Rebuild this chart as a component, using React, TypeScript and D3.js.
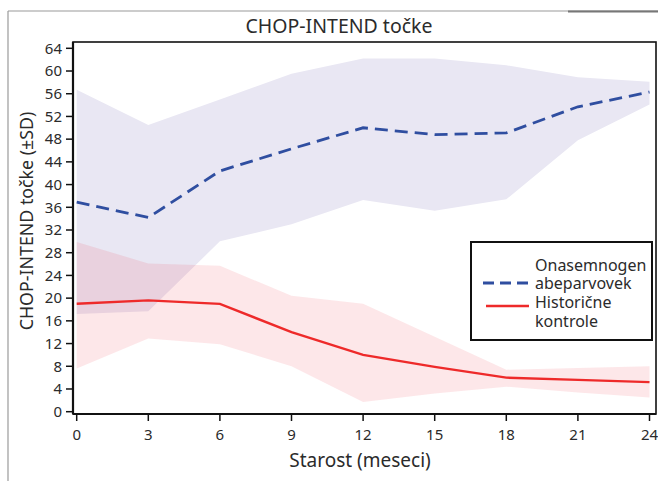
import React from "react";
import * as d3 from "d3";

const months = [0, 3, 6, 9, 12, 15, 18, 21, 24];
const xTicks = [0, 3, 6, 9, 12, 15, 18, 21, 24];
const yTicks = [0, 4, 8, 12, 16, 20, 24, 28, 32, 36, 40, 44, 48, 52, 56, 60, 64];

const onaMean = [36.9, 34.2, 42.4, 46.3, 50.0, 48.8, 49.1, 53.7, 56.3];
const onaUpper = [56.7, 50.5, 55.0, 59.5, 62.2, 62.2, 61.0, 58.9, 58.1];
const onaLower = [17.2, 17.7, 30.0, 33.0, 37.3, 35.4, 37.4, 47.8, 54.1];

const histMean = [19.0, 19.6, 19.0, 14.0, 10.0, 7.9, 6.0, 5.6, 5.2];
const histUpper = [29.9, 26.1, 25.7, 20.4, 19.0, 13.2, 7.4, 7.7, 8.0];
const histLower = [7.6, 12.9, 11.9, 8.0, 1.7, 3.2, 4.4, 3.4, 2.5];

const title = "CHOP-INTEND točke";
const yLabel = "CHOP-INTEND točke (±SD)";
const xLabel = "Starost (meseci)";
const legendOna = ["Onasemnogen", "abeparvovek"];
const legendHist = ["Historične", "kontrole"];

const FONT = "'Noto Sans', sans-serif";
const TXT = "#2b2b2b";

export default function App() {
  const W = 658;
  const H = 481;
  const frameL = 73, frameR = 656, frameT = 42, frameB = 414;
  const x = d3.scaleLinear().domain([0, 24]).range([76.7, 649.5]);
  const y = d3.scaleLinear().domain([0, 64]).range([411.7, 48.3]);

  const area = (up: number[], lo: number[]) =>
    d3
      .area<number>()
      .x((_, i) => x(months[i]))
      .y0((_, i) => y(lo[i]))
      .y1((_, i) => y(up[i]))(months as any) as string;
  const line = (vals: number[]) =>
    d3
      .line<number>()
      .x((_, i) => x(months[i]))
      .y((d) => y(d))(vals) as string;

  const legendBaselines = [271, 289, 308, 327];

  return (
    <svg
      width={W}
      height={H}
      style={{ position: "absolute", left: 0, top: 0, background: "#fff" }}
      fontFamily={FONT}
    >
      {/* outer frame */}
      <line x1={8} y1={11} x2={W} y2={11} stroke="#9a9a9a" strokeWidth={1.2} />
      <line x1={568} y1={11.5} x2={W} y2={11.5} stroke="#777" strokeWidth={2} />
      <line x1={8} y1={11} x2={8} y2={H} stroke="#9a9a9a" strokeWidth={1.2} />

      <text x={339} y={33} textAnchor="middle" fontSize={19.5} fill={TXT}>
        {title}
      </text>

      {/* bands */}
      <path d={area(onaUpper, onaLower)} fill="#e9e7f3" />
      <path d={area(histUpper, histLower)} fill="#ee2233" fillOpacity={0.11} />

      {/* lines */}
      <path d={line(histMean)} fill="none" stroke="#ee2a2a" strokeWidth={2.4} />
      <path
        d={line(onaMean)}
        fill="none"
        stroke="#2f4ea0"
        strokeWidth={2.8}
        strokeDasharray="13,7"
      />

      {/* plot frame */}
      <rect
        x={frameL}
        y={frameT}
        width={frameR - frameL}
        height={frameB - frameT}
        fill="none"
        stroke="#111"
        strokeWidth={1.6}
      />
      <line x1={frameL} y1={frameT} x2={frameL} y2={frameB} stroke="#111" strokeWidth={2.2} />
      <line x1={frameL} y1={frameB} x2={frameR} y2={frameB} stroke="#111" strokeWidth={2.2} />

      {/* y axis */}
      {yTicks.map((t) => (
        <g key={"y" + t}>
          <line x1={frameL - 7} x2={frameL} y1={y(t)} y2={y(t)} stroke="#111" strokeWidth={1.5} />
          <text
            x={frameL - 11}
            y={y(t)}
            dy="0.35em"
            textAnchor="end"
            fontSize={15}
            fill={TXT}
          >
            {t}
          </text>
        </g>
      ))}

      {/* x axis */}
      {xTicks.map((t) => (
        <g key={"x" + t}>
          <line x1={x(t)} x2={x(t)} y1={frameB} y2={frameB + 7} stroke="#111" strokeWidth={1.5} />
          <text
            x={x(t)}
            y={frameB + 21}
            dy="0.35em"
            textAnchor="middle"
            fontSize={15}
            fill={TXT}
          >
            {t}
          </text>
        </g>
      ))}

      <text x={360} y={467} textAnchor="middle" fontSize={19} fill={TXT}>
        {xLabel}
      </text>
      <text
        transform={`translate(27,221) rotate(-90)`}
        dy="0.35em"
        textAnchor="middle"
        fontSize={17.8}
        fill={TXT}
      >
        {yLabel}
      </text>

      {/* legend */}
      <rect x={471} y={242} width={181} height={98} fill="#fff" stroke="#111" strokeWidth={2} />
      <line x1={483} x2={529} y1={283} y2={283} stroke="#2f4ea0" strokeWidth={2.8} strokeDasharray="11,6" />
      <line x1={486} x2={529} y1={306} y2={306} stroke="#ee2a2a" strokeWidth={2.4} />
      {[...legendOna, ...legendHist].map((s, i) => (
        <text key={"l" + i} x={535} y={legendBaselines[i]} fontSize={16} fill={TXT}>
          {s}
        </text>
      ))}
    </svg>
  );
}
